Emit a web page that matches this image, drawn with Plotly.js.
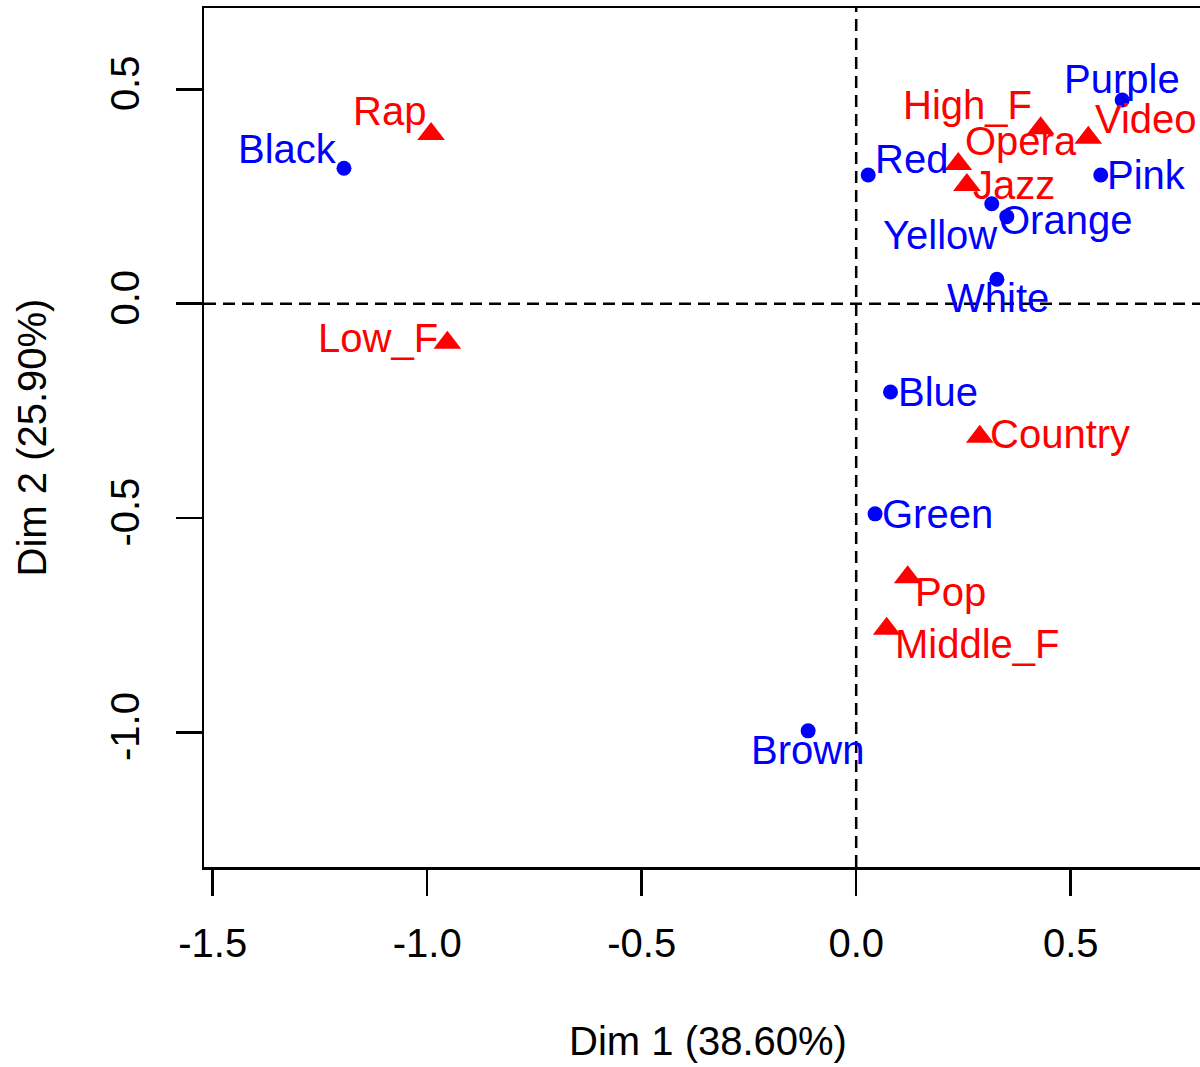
<!DOCTYPE html>
<html>
<head>
<meta charset="utf-8">
<script src="https://cdn.plot.ly/plotly-3.0.1.min.js"></script>
<style>
  html, body { margin: 0; padding: 0; overflow: hidden; background: #fff; }
  #chart { width: 1240px; height: 1067px; }
</style>
</head>
<body>
<div id="chart"></div>
<script>
// Correspondence analysis: colours (rows) and music styles (columns)
const colorNames = ['Black', 'Red', 'Purple', 'Pink', 'Yellow', 'Orange', 'White', 'Blue', 'Green', 'Brown'];
const colorDim1  = [-1.194, 0.028, 0.620, 0.570, 0.316, 0.351, 0.328, 0.080, 0.044, -0.112];
const colorDim2  = [0.316, 0.300, 0.475, 0.300, 0.233, 0.203, 0.057, -0.206, -0.490, -0.996];

const musicNames = ['Rap', 'Low_F', 'High_F', 'Video', 'Opera', 'Jazz', 'Country', 'Pop', 'Middle_F'];
const musicDim1  = [-0.991, -0.953, 0.430, 0.541, 0.238, 0.258, 0.288, 0.120, 0.071];
const musicDim2  = [0.396, -0.091, 0.409, 0.387, 0.326, 0.277, -0.310, -0.638, -0.758];

const xTickVals = [-1.5, -1.0, -0.5, 0.0, 0.5];
const xTickText = ['-1.5', '-1.0', '-0.5', '0.0', '0.5'];
const yTickVals = [-1.0, -0.5, 0.0, 0.5];
const yTickText = ['-1.0', '-0.5', '0.0', '0.5'];

const dim1Title = 'Dim 1 (38.60%)';
const dim2Title = 'Dim 2 (25.90%)';

// Pixel offsets of each label centre from its point (right, down)
const labelOffset = {
  Black: [-56, -19], Red: [43, -16], Purple: [0, -21], Pink: [46, 0],
  Yellow: [-52, 31], Orange: [59, 3], White: [1, 19], Blue: [47, 0],
  Green: [62, 0], Brown: [-1, 19],
  Rap: [-42, -23], Low_F: [-69, -5], High_F: [-73, -23], Video: [58, -19],
  Opera: [63, -23], Jazz: [47, 0], Country: [80, -3], Pop: [43, 15],
  Middle_F: [91, 15]
};

const BLUE = '#0000FF';
const RED = '#FF0000';
const FONT = '"Liberation Sans", Arial, Helvetica, sans-serif';
const FS = 40;

const traces = [
  {
    type: 'scatter', mode: 'markers', name: 'rows',
    x: colorDim1, y: colorDim2, text: colorNames,
    marker: { symbol: 'circle', size: 15, color: BLUE, line: { width: 0 } },
    hoverinfo: 'text'
  },
  {
    type: 'scatter', mode: 'markers', name: 'columns',
    x: musicDim1, y: musicDim2, text: musicNames,
    marker: { symbol: 'triangle-up', size: 24, color: RED, line: { width: 0 } },
    hoverinfo: 'text'
  }
];

function labels(names, xs, ys, color) {
  return names.map((n, i) => ({
    x: xs[i], y: ys[i], xref: 'x', yref: 'y', text: n, showarrow: false,
    xanchor: 'center', yanchor: 'middle',
    xshift: labelOffset[n][0], yshift: -labelOffset[n][1],
    font: { family: FONT, size: FS, color: color }
  }));
}

const annotations = [].concat(
  labels(colorNames, colorDim1, colorDim2, BLUE),
  labels(musicNames, musicDim1, musicDim2, RED)
);

const axisCommon = {
  ticks: 'outside', ticklen: 26, tickwidth: 2.5, tickcolor: '#000',
  showline: true, linewidth: 2.5, linecolor: '#000', mirror: true,
  showgrid: false, zeroline: false,
  tickfont: { family: FONT, size: FS, color: '#000' }
};

const layout = {
  width: 1240, height: 1067,
  margin: { l: 204, r: 28, t: 8, b: 200, pad: 0 },
  paper_bgcolor: '#fff', plot_bgcolor: '#fff',
  showlegend: false,
  font: { family: FONT, size: FS, color: '#000' },
  xaxis: Object.assign({}, axisCommon, {
    range: [-1.5203, 0.8294],
    tickmode: 'array', tickvals: xTickVals, ticktext: xTickText,
    ticklabelstandoff: 13,
    title: { text: dim1Title, font: { family: FONT, size: FS, color: '#000' }, standoff: 64 }
  }),
  yaxis: Object.assign({}, axisCommon, {
    range: [-1.3135, 0.6896],
    tickmode: 'array', tickvals: yTickVals, ticktext: yTickText,
    tickangle: -90,
    ticklabelstandoff: 21,
    title: { text: dim2Title, font: { family: FONT, size: FS, color: '#000' }, standoff: 44 }
  }),
  shapes: [
    { type: 'line', xref: 'x', yref: 'paper', x0: 0, x1: 0, y0: 0, y1: 1,
      line: { color: '#000', width: 2.5, dash: '12px,7px' }, layer: 'below' },
    { type: 'line', xref: 'paper', yref: 'y', x0: 0, x1: 1, y0: 0, y1: 0,
      line: { color: '#000', width: 2.5, dash: '12px,7px' }, layer: 'below' }
  ],
  annotations: annotations
};

Plotly.newPlot('chart', traces, layout, { staticPlot: true, displayModeBar: false });
</script>
</body>
</html>
